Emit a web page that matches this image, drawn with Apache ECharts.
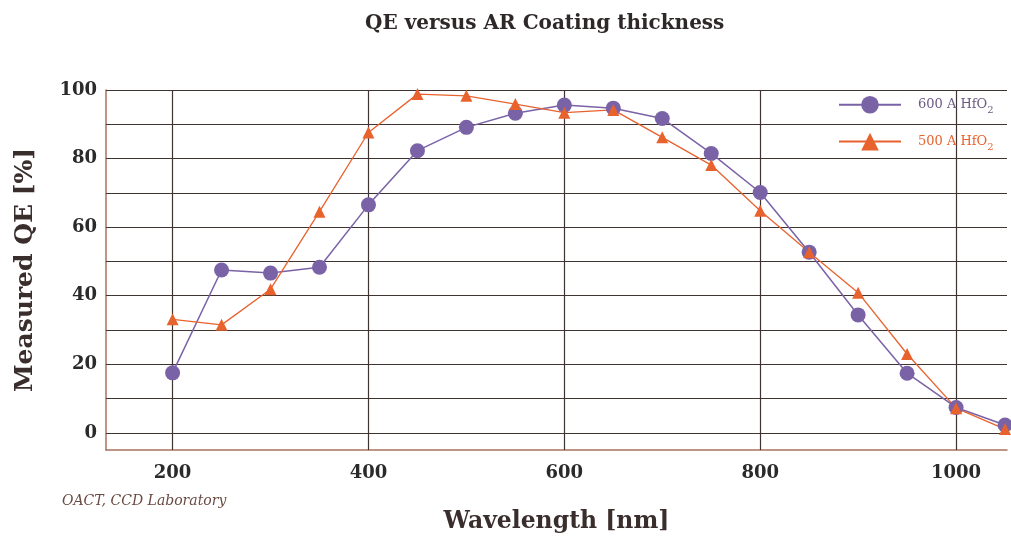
<!DOCTYPE html>
<html>
<head>
<meta charset="utf-8">
<script src="https://cdn.jsdelivr.net/npm/echarts@6/dist/echarts.min.js"></script>
<style>
html, body { margin: 0; padding: 0; background: #fff; }
#chart { width: 1011px; height: 537px; }
</style>
</head>
<body>
<div id="chart"></div>
<script>
// wavelengths in nm
var wavelength = [200, 250, 300, 350, 400, 450, 500, 550, 600, 650, 700, 750, 800, 850, 900, 950, 1000, 1050];
// measured QE in %
var qe600 = [17.5, 47.5, 46.6, 48.3, 66.5, 82.3, 89.1, 93.2, 95.6, 94.7, 91.7, 81.5, 70.1, 52.7, 34.4, 17.4, 7.4, 2.3];
var qe500 = [33.1, 31.5, 41.9, 64.5, 87.6, 98.8, 98.3, 95.9, 93.4, 94.2, 86.2, 78.1, 64.8, 52.7, 40.9, 23.0, 7.2, 1.1];
var xLabels = [200, 400, 600, 800, 1000];
var yLabels = [0, 20, 40, 60, 80, 100];
var yLines = [0, 10, 20, 30, 40, 50, 60, 70, 80, 90, 100];

var serif = '"DejaVu Serif", "Liberation Serif", serif';
var purple = '#7a62a6';
var orange = '#e8622e';
var gridCol = '#3f3431';
var frameCol = '#a8735e';

function pairs(ys) {
	return ys.map(function (v, i) { return [wavelength[i], v]; });
}

var chart = echarts.init(document.getElementById('chart'));
var option = {
	backgroundColor: '#fff',
	animation: false,
	title: {
		text: 'QE versus AR Coating thickness',
		left: 360,
		top: 9,
		textStyle: { fontFamily: serif, fontWeight: 'bold', fontSize: 20, color: '#2e2828' }
	},
	graphic: [{
		type: 'text',
		left: 62,
		top: 494,
		style: {
			text: 'OACT, CCD Laboratory',
			font: 'italic 14px ' + serif,
			fill: '#6a4a42'
		}
	}],
	legend: {
		orient: 'vertical',
		left: 833,
		top: 91,
		itemGap: 17,
		itemWidth: 62,
		itemHeight: 22,
		data: [
			{ name: '600 A HfO2', textStyle: { color: '#6a5a80' } },
			{ name: '500 A HfO2', textStyle: { color: orange } }
		],
		formatter: function (name) {
			return '{a|' + name.slice(0, -1) + '}{s|2}';
		},
		textStyle: {
			fontFamily: serif,
			fontSize: 13,
			rich: {
				a: { fontFamily: serif, fontSize: 13, padding: [0, 0, 0, 12] },
				s: { fontFamily: serif, fontSize: 10, padding: [12, 0, 0, 0] }
			}
		}
	},
	grid: { left: 106, right: 4, top: 90, bottom: 87, outerBoundsMode: 'none' },
	xAxis: {
		type: 'value',
		min: 132,
		max: 1052,
		name: 'Wavelength [nm]',
		nameLocation: 'middle',
		nameGap: 60,
		nameTextStyle: { fontFamily: serif, fontWeight: 'bold', fontSize: 23.5, color: '#3a2e2c' },
		axisLine: { show: true, onZero: false, lineStyle: { color: frameCol, width: 1.5 } },
		axisTick: { show: true, inside: true, length: 5, customValues: xLabels, lineStyle: { color: gridCol } },
		axisLabel: {
			customValues: xLabels,
			margin: 14,
			formatter: function (v) { return String(v); },
			fontFamily: serif, fontWeight: 'bold', fontSize: 18, color: '#2a2a2a'
		},
		splitLine: { show: true, lineStyle: { color: gridCol, width: 1.2 } }
	},
	yAxis: {
		type: 'value',
		min: -5,
		max: 100,
		name: 'Measured QE [%]',
		nameLocation: 'middle',
		nameGap: 68,
		nameTextStyle: { fontFamily: serif, fontWeight: 'bold', fontSize: 25, color: '#3a2e2c' },
		axisLine: { show: true, lineStyle: { color: frameCol, width: 1.5 } },
		axisTick: { show: true, inside: true, length: 5, customValues: yLines, lineStyle: { color: gridCol } },
		axisLabel: {
			customValues: yLabels,
			margin: 9,
			fontFamily: serif, fontWeight: 'bold', fontSize: 18, color: '#2a2a2a'
		},
		splitLine: { show: true, lineStyle: { color: gridCol, width: 1.2 } }
	},
	series: [{
		name: '600 A HfO2',
		type: 'line',
		data: pairs(qe600),
		symbol: 'circle',
		symbolSize: 15,
		clip: false,
		itemStyle: { color: purple },
		lineStyle: { color: purple, width: 1.5 }
	}, {
		name: '500 A HfO2',
		type: 'line',
		data: pairs(qe500),
		symbol: 'triangle',
		symbolSize: 12,
		clip: false,
		itemStyle: { color: orange },
		lineStyle: { color: orange, width: 1.3 }
	}]
};
chart.setOption(option);
</script>
</body>
</html>
